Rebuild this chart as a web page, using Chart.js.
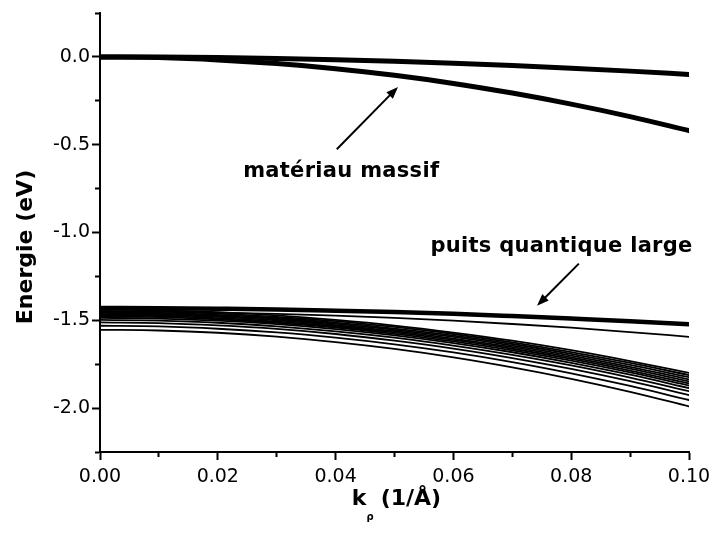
<!DOCTYPE html>
<html>
<head>
<meta charset="utf-8">
<script src="https://cdn.jsdelivr.net/npm/chart.js@4.4.1/dist/chart.umd.min.js"></script>
<style>
  html, body { margin: 0; padding: 0; background: #fff; }
  #wrap { width: 713px; height: 536px; position: relative; }
</style>
</head>
<body>
<div id="wrap"><canvas id="grafico"></canvas></div>
<script>
// k_rho (1/Å)
const kValues = [0.00, 0.01, 0.02, 0.03, 0.04, 0.05, 0.06, 0.07, 0.08, 0.09, 0.10];

// matériau massif (eV)
const massifLourd = [0.000, -0.001, -0.004, -0.009, -0.016, -0.025, -0.036, -0.049, -0.064, -0.081, -0.100];
const massifLeger = [0.000, -0.004, -0.017, -0.038, -0.067, -0.105, -0.151, -0.206, -0.269, -0.340, -0.420];

// puits quantique large (eV)
const puitsLarge  = [-1.430, -1.431, -1.434, -1.438, -1.445, -1.453, -1.463, -1.476, -1.490, -1.505, -1.523];
const puitsLarge2 = [-1.450, -1.451, -1.456, -1.463, -1.473, -1.486, -1.502, -1.521, -1.542, -1.567, -1.594];
const puits01 = [-1.440, -1.444, -1.454, -1.472, -1.498, -1.530, -1.570, -1.616, -1.670, -1.732, -1.800];
const puits02 = [-1.447, -1.451, -1.462, -1.480, -1.505, -1.538, -1.578, -1.626, -1.681, -1.743, -1.812];
const puits03 = [-1.454, -1.458, -1.469, -1.487, -1.513, -1.547, -1.587, -1.635, -1.691, -1.754, -1.824];
const puits04 = [-1.460, -1.464, -1.475, -1.494, -1.520, -1.554, -1.595, -1.644, -1.701, -1.765, -1.836];
const puits05 = [-1.466, -1.470, -1.481, -1.500, -1.527, -1.562, -1.604, -1.653, -1.711, -1.775, -1.848];
const puits06 = [-1.472, -1.476, -1.488, -1.507, -1.534, -1.569, -1.612, -1.662, -1.720, -1.786, -1.860];
const puits07 = [-1.478, -1.482, -1.494, -1.514, -1.541, -1.577, -1.620, -1.671, -1.730, -1.797, -1.872];
const puits08 = [-1.486, -1.490, -1.502, -1.522, -1.550, -1.586, -1.630, -1.682, -1.742, -1.810, -1.886];
const puits09 = [-1.498, -1.502, -1.514, -1.535, -1.563, -1.599, -1.644, -1.697, -1.757, -1.826, -1.903];
const puits10 = [-1.512, -1.516, -1.529, -1.549, -1.578, -1.616, -1.661, -1.715, -1.777, -1.847, -1.926];
const puits11 = [-1.531, -1.535, -1.548, -1.569, -1.599, -1.637, -1.683, -1.738, -1.802, -1.874, -1.954];
const puits12 = [-1.554, -1.558, -1.571, -1.593, -1.624, -1.663, -1.711, -1.768, -1.833, -1.907, -1.990];

// graduations
const xMajorTicks = [0.00, 0.02, 0.04, 0.06, 0.08, 0.10];
const xMinorTicks = [0.01, 0.03, 0.05, 0.07, 0.09];
const yMajorTicks = [-2.0, -1.5, -1.0, -0.5, 0.0];
const yMinorTicks = [-2.25, -1.75, -1.25, -0.75, -0.25, 0.25];

// annotations (coordonnées des données)
const labelMassif = { text: 'matériau massif', k: 0.0243, e: -0.686 };
const labelPuits = { text: 'puits quantique large', k: 0.0561, e: -1.109 };
const arrowMassif = { from: [0.0402, -0.526], to: [0.0506, -0.171] };
const arrowPuits = { from: [0.0813, -1.177], to: [0.0742, -1.417] };

const sousBandes = [puits01, puits02, puits03, puits04, puits05, puits06,
                    puits07, puits08, puits09, puits10, puits11, puits12];

function serie(vals, width) {
  return {
    data: vals.map((e, i) => ({ x: kValues[i], y: e })),
    borderColor: '#000',
    borderWidth: width,
    pointRadius: 0,
    fill: false,
    cubicInterpolationMode: 'monotone',
    borderCapStyle: 'round',
    borderJoinStyle: 'round'
  };
}

function isMajor(v, list) {
  return list.some(m => Math.abs(m - v) < 1e-9);
}

const datasets = [];
sousBandes.forEach(b => datasets.push(serie(b, 1.8)));
datasets.push(serie(puitsLarge2, 1.8));
datasets.push(serie(puitsLarge, 4.5));
datasets.push(serie(massifLeger, 5));
datasets.push(serie(massifLourd, 5));

function drawArrow(ctx, x0, y0, x1, y1) {
  const ang = Math.atan2(y1 - y0, x1 - x0);
  const c = Math.cos(ang), s = Math.sin(ang);
  const head = 12, half = 4.5;
  ctx.beginPath();
  ctx.moveTo(x0, y0);
  ctx.lineTo(x1 - head * 0.7 * c, y1 - head * 0.7 * s);
  ctx.lineWidth = 2;
  ctx.strokeStyle = '#000';
  ctx.stroke();
  ctx.beginPath();
  ctx.moveTo(x1, y1);
  ctx.lineTo(x1 - head * c + half * s, y1 - head * s - half * c);
  ctx.lineTo(x1 - head * c - half * s, y1 - head * s + half * c);
  ctx.closePath();
  ctx.fillStyle = '#000';
  ctx.fill();
}

const boldFamily = '"DejaVu Sans", "Liberation Sans", Arial, sans-serif';

const decor = {
  id: 'decor',
  afterDraw(chart) {
    const { ctx, chartArea, scales: { x, y } } = chart;
    ctx.save();
    ctx.fillStyle = '#000';

    // flèches
    drawArrow(ctx, x.getPixelForValue(arrowMassif.from[0]), y.getPixelForValue(arrowMassif.from[1]),
                   x.getPixelForValue(arrowMassif.to[0]), y.getPixelForValue(arrowMassif.to[1]));
    drawArrow(ctx, x.getPixelForValue(arrowPuits.from[0]), y.getPixelForValue(arrowPuits.from[1]),
                   x.getPixelForValue(arrowPuits.to[0]), y.getPixelForValue(arrowPuits.to[1]));

    // textes
    ctx.font = 'bold 21px ' + boldFamily;
    ctx.letterSpacing = '0.3px';
    ctx.textAlign = 'left';
    ctx.textBaseline = 'alphabetic';
    ctx.fillText(labelMassif.text, x.getPixelForValue(labelMassif.k), y.getPixelForValue(labelMassif.e));
    ctx.fillText(labelPuits.text, x.getPixelForValue(labelPuits.k), y.getPixelForValue(labelPuits.e));
    ctx.letterSpacing = '0px';

    // titre axe y
    ctx.font = 'bold 22px ' + boldFamily;
    ctx.save();
    ctx.translate(chartArea.left - 68, chartArea.top + 234);
    ctx.rotate(-Math.PI / 2);
    ctx.textAlign = 'center';
    ctx.fillText('Energie (eV)', 0, 0);
    ctx.restore();

    // titre axe x : k_rho (1/Å)
    const base = chartArea.bottom + 53;
    const bigFont = 'bold 22px ' + boldFamily;
    const subFont = 'bold 10px ' + boldFamily;
    ctx.textAlign = 'left';
    ctx.font = bigFont;
    const wK = ctx.measureText('k').width;
    const wRest = ctx.measureText('(1/Å)').width;
    ctx.font = subFont;
    const wRho = ctx.measureText('ρ').width + 1;
    const gap = 6;
    const total = wK + wRho + gap + wRest;
    let cx = (chartArea.left + chartArea.right) / 2 + 2 - total / 2;
    ctx.font = bigFont;
    ctx.fillText('k', cx, base);
    cx += wK;
    ctx.font = subFont;
    ctx.fillText('ρ', cx, base + 15);
    cx += wRho + gap;
    ctx.font = bigFont;
    ctx.fillText('(1/Å)', cx, base);
    ctx.restore();
  }
};

const tickFont = { family: '"DejaVu Sans", "Liberation Sans", Arial, sans-serif', size: 19 };

new Chart(document.getElementById('grafico'), {
  type: 'line',
  data: { datasets },
  plugins: [decor],
  options: {
    responsive: true,
    maintainAspectRatio: false,
    animation: false,
    layout: { padding: { top: 13, right: 24, left: 0, bottom: 0 } },
    plugins: { legend: { display: false }, tooltip: { enabled: false } },
    scales: {
      x: {
        type: 'linear',
        min: 0,
        max: 0.1,
        afterBuildTicks: s => {
          s.ticks = xMajorTicks.concat(xMinorTicks).sort((a, b) => a - b).map(v => ({ value: v }));
        },
        afterFit: s => { s.height = 84; s.paddingLeft = 0; s.paddingRight = 0; },
        ticks: {
          autoSkip: false,
          maxRotation: 0,
          color: '#000',
          font: tickFont,
          padding: 6,
          callback: v => isMajor(v, xMajorTicks) ? v.toFixed(2) : ''
        },
        grid: {
          drawOnChartArea: false,
          drawTicks: true,
          tickLength: 8,
          tickWidth: 2,
          tickColor: '#000',
          tickBorderDash: c => (c.tick && !isMajor(c.tick.value, xMajorTicks)) ? [4, 20] : []
        },
        border: { display: true, color: '#000', width: 2 }
      },
      y: {
        type: 'linear',
        min: -2.25,
        max: 0.25,
        afterBuildTicks: s => {
          s.ticks = yMajorTicks.concat(yMinorTicks).sort((a, b) => a - b).map(v => ({ value: v }));
        },
        afterFit: s => { s.width = 100; s.paddingTop = 0; s.paddingBottom = 0; },
        ticks: {
          autoSkip: false,
          color: '#000',
          font: tickFont,
          padding: 2,
          callback: v => isMajor(v, yMajorTicks) ? v.toFixed(1) : ''
        },
        grid: {
          drawOnChartArea: false,
          drawTicks: true,
          tickLength: 8,
          tickWidth: 2,
          tickColor: '#000',
          tickBorderDash: c => (c.tick && !isMajor(c.tick.value, yMajorTicks)) ? [0, 3, 5, 20] : []
        },
        border: { display: true, color: '#000', width: 2 }
      }
    }
  }
});
</script>
</body>
</html>
